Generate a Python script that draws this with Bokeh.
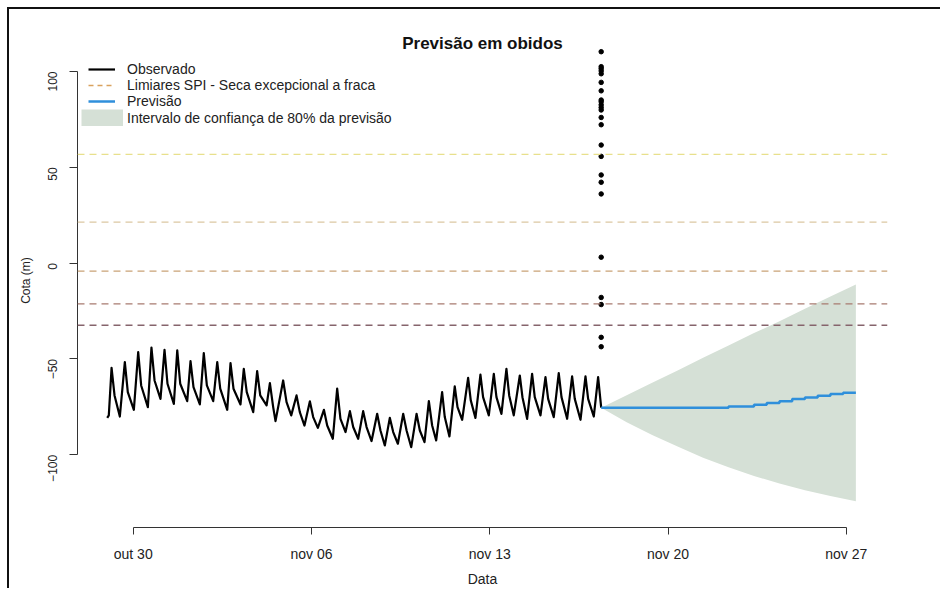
import math
from datetime import datetime, timezone

from bokeh.plotting import figure
from bokeh.models import (Span, Label, Legend, LegendItem, FixedTicker,
                          ColumnDataSource, Range1d)
from bokeh.embed import file_html
from bokeh.resources import INLINE

# ---------------- data ----------------
# time axis: hours after 30 Oct 00:00
BASE = datetime(2023, 10, 30, tzinfo=timezone.utc)

obs_hours = [
    -24.5, -23.0, -20.4, -17.6, -12.6,
    -7.9, -5.1, 0.6, 4.7, 7.5, 13.8, 17.2, 20.1, 25.7,
    29.5, 32.3, 38.3, 41.5, 44.3, 50.9, 54.0, 56.8, 62.8,
    66.5, 69.4, 75.4, 79.2, 82.0, 88.6, 91.7, 94.5, 101.1,
    104.2, 107.0, 113.1, 116.8, 119.7, 125.7, 128.8, 131.9, 134.1,
    141.3, 144.5, 148.9, 153.9, 157.0, 161.4, 166.5, 169.6, 174.0,
    179.7, 182.8, 188.1, 192.2, 195.3, 200.1, 204.2, 207.3, 212.0,
    216.7, 219.9, 224.6, 229.9, 233.0, 237.1, 241.8, 245.0, 249.4,
    254.4, 257.6, 262.0, 267.0, 270.1, 274.5, 278.6, 281.7, 285.5,
    291.1, 293.6, 298.0, 303.0, 305.6, 310.0, 315.6, 318.1, 322.5,
    327.2, 329.7, 335.1, 339.8, 342.3, 347.0, 351.7, 354.3, 358.6,
    364.3, 366.8, 371.2, 375.9, 378.4, 383.8, 388.5, 391.0, 396.3,
    401.0, 403.6, 408.9, 413.6, 416.1, 421.5, 426.2, 428.7, 434.0,
    438.1, 441.0,
]
obs_cota = [
    -80.7, -79.4, -54.6, -69.0, -80.0,
    -51.6, -67.3, -76.5, -46.4, -63.8, -75.1, -44.1, -61.2, -70.8,
    -45.2, -62.9, -73.4, -45.5, -62.9, -72.0, -51.1, -64.7, -73.7,
    -46.9, -63.8, -72.0, -51.6, -65.5, -76.5, -52.1, -65.5, -73.7,
    -55.1, -67.3, -77.7, -56.3, -69.0, -74.2, -62.6, -75.1, -82.4,
    -61.2, -72.5, -79.4, -69.0, -77.7, -84.7, -72.1, -80.3, -85.9,
    -76.5, -84.7, -91.6, -65.5, -81.2, -88.1, -77.2, -85.5, -91.6,
    -77.2, -85.5, -92.8, -78.6, -87.3, -95.1, -80.7, -88.1, -94.2,
    -78.6, -87.3, -96.0, -78.6, -87.3, -93.4, -72.0, -84.7, -92.5,
    -67.3, -80.3, -90.4, -64.3, -75.1, -81.7, -59.8, -71.6, -80.7,
    -58.1, -69.9, -79.4, -57.7, -69.9, -78.6, -55.1, -69.0, -79.4,
    -58.6, -69.9, -81.2, -57.7, -69.9, -79.4, -59.4, -70.8, -80.3,
    -57.4, -69.9, -81.2, -59.1, -70.8, -81.7, -59.1, -70.8, -80.0,
    -59.4, -75.4,
]

fc_hours = [441, 453, 465, 477, 489, 501, 513, 525, 537, 549, 561,
            573, 585, 597, 609, 621, 633, 645, 657, 669, 681]
fc_cota = [-75.4, -75.4, -75.4, -75.4, -75.4, -75.4, -75.4, -75.4, -75.4,
           -75.4, -74.8, -74.8, -73.9, -73.0, -72.0, -70.9, -70.1, -69.2,
           -68.3, -67.6, -67.6]

band_hours = [441, 465, 489, 513, 537, 561, 585, 609, 633, 657, 681]
band_upper = [-75.4, -68.9, -62.4, -56.0, -49.4, -42.9, -36.5, -30.3,
              -23.8, -17.4, -11.1]
band_lower = [-75.4, -83.0, -89.6, -95.6, -101.5, -106.5, -111.0, -115.0,
              -118.5, -121.5, -124.2]

members_hour = 441
members_cota = [110.3, 102.5, 101.5, 100.3, 98.8, 94.3, 89.9, 85.1, 84.2,
                82.6, 81.2, 79.9, 76.0, 72.2, 61.6, 55.7, 46.0, 42.2, 36.1,
                3.1, -17.9, -21.6, -38.7, -43.6]

spi_levels = [56.7, 21.4, -4.2, -21.2, -32.4]
spi_colors = ["#e8e08c", "#dcc7a2", "#c9a277", "#a87b70", "#86646c"]

tick_days = [0, 7, 14, 21, 28]
tick_labels = ["out 30", "nov 06", "nov 13", "nov 20", "nov 27"]
y_ticks = [-100, -50, 0, 50, 100]

# ---------------- helpers ----------------
BASE_MS = BASE.timestamp() * 1000.0
HOUR_MS = 3600.0 * 1000.0


def to_ms(hours):
    return [BASE_MS + h * HOUR_MS for h in hours]


FONT = "Liberation Sans"
TXT = "#222222"
BAND = "#d5e0d6"

x_start = BASE_MS - 52.5 * HOUR_MS
x_end = BASE_MS + 710.8 * HOUR_MS

p = figure(width=933, height=581, output_backend="svg", toolbar_location=None,
           x_axis_type="datetime",
           x_range=Range1d(x_start, x_end), y_range=Range1d(-137.9, 119.8),
           min_border_left=68, min_border_right=55,
           min_border_top=24, min_border_bottom=63)
p.outline_line_color = None
p.xgrid.grid_line_color = None
p.ygrid.grid_line_color = None
p.background_fill_color = "white"
p.border_fill_color = "white"
p.styles = {"margin-left": "7px", "margin-top": "7px",
            "border-left": "2px solid #111", "border-top": "2px solid #111"}

# confidence band
band_src = ColumnDataSource(dict(x=to_ms(band_hours), lo=band_lower, hi=band_upper))
p.varea(x="x", y1="lo", y2="hi", source=band_src, fill_color=BAND, fill_alpha=1.0)

# observed
obs_src = ColumnDataSource(dict(x=to_ms(obs_hours), y=obs_cota))
r_obs = p.line(x="x", y="y", source=obs_src, line_color="black", line_width=2.2,
               line_join="round")

# forecast
fc_src = ColumnDataSource(dict(x=to_ms(fc_hours), y=fc_cota))
p.step(x="x", y="y", source=fc_src, mode="after", line_color="#2f8fdb", line_width=2.5)

# ensemble members (points)
mem_src = ColumnDataSource(dict(x=to_ms([members_hour] * len(members_cota)), y=members_cota))
p.scatter(x="x", y="y", source=mem_src, marker="circle", size=4.5,
          fill_color="black", line_color="black")

# SPI thresholds
for lvl, col in zip(spi_levels, spi_colors):
    p.add_layout(Span(location=lvl, dimension="width", line_color=col,
                      line_width=1.3, line_dash="7 5"))

# axes
tick_ms = [BASE_MS + d * 24 * HOUR_MS for d in tick_days]
xa = p.xaxis[0]
xa.ticker = FixedTicker(ticks=tick_ms)
xa.major_label_overrides = {t: lab for t, lab in zip(tick_ms, tick_labels)}
xa.bounds = (tick_ms[0], tick_ms[-1])
xa.minor_tick_line_color = None
xa.major_tick_in = 0
xa.major_tick_out = 7
xa.axis_line_color = "#333333"
xa.major_tick_line_color = "#333333"
xa.major_label_text_font = FONT
xa.major_label_text_font_size = "14px"
xa.major_label_text_color = TXT
xa.major_label_standoff = 11
xa.axis_label = "Data"
xa.axis_label_text_font = FONT
xa.axis_label_text_font_size = "14px"
xa.axis_label_text_font_style = "normal"
xa.axis_label_text_color = TXT
xa.axis_label_standoff = 6

ya = p.yaxis[0]
ya.ticker = FixedTicker(ticks=y_ticks)
ya.bounds = (y_ticks[0], y_ticks[-1])
ya.minor_tick_line_color = None
ya.major_tick_in = 0
ya.major_tick_out = 8
ya.axis_line_color = "#333333"
ya.major_tick_line_color = "#333333"
ya.major_label_orientation = math.pi / 2
ya.major_label_text_font = FONT
ya.major_label_text_font_size = "12px"
ya.major_label_text_color = TXT
ya.major_label_standoff = 17
ya.axis_label = "Cota (m)"
ya.axis_label_text_font = FONT
ya.axis_label_text_font_size = "12px"
ya.axis_label_text_font_style = "normal"
ya.axis_label_text_color = TXT
ya.axis_label_standoff = 8

# title
p.add_layout(Label(x=(x_start + x_end) / 2, y=114.6, text="Previsão em obidos",
                   text_align="center", text_baseline="middle",
                   text_font=FONT, text_font_size="17px", text_font_style="bold",
                   text_color="#111111"))

# legend proxies (one NaN point each, so only their legend samples show)
NAN = float("nan")
r_spi = p.line(x=[NAN], y=[NAN], line_color="#d9a25e", line_width=1.3, line_dash="5 4")
r_fcl = p.line(x=[NAN], y=[NAN], line_color="#2f8fdb", line_width=2.5)
r_band = p.line(x=[NAN], y=[NAN], line_color=BAND, line_width=17)


def style_legend(lg):
    lg.border_line_color = None
    lg.background_fill_alpha = 0
    lg.padding = 0
    lg.margin = 0
    lg.spacing = 0
    lg.label_text_font = FONT
    lg.label_text_font_size = "14px"
    lg.label_text_color = TXT


legend1 = Legend(items=[
    LegendItem(label="Observado", renderers=[r_obs]),
    LegendItem(label="Limiares SPI - Seca excepcional a fraca", renderers=[r_spi]),
    LegendItem(label="Previsão", renderers=[r_fcl]),
], location=(11, 418))
style_legend(legend1)
legend1.glyph_width = 27
legend1.glyph_height = 16
legend1.label_height = 16
legend1.label_standoff = 12
p.add_layout(legend1)

legend2 = Legend(items=[
    LegendItem(label="Intervalo de confiança de 80% da previsão", renderers=[r_band]),
], location=(4, 401))
style_legend(legend2)
legend2.glyph_width = 42
legend2.glyph_height = 17
legend2.label_height = 17
legend2.label_standoff = 4
p.add_layout(legend2)

open("out.html", "w").write(file_html(p, INLINE))
